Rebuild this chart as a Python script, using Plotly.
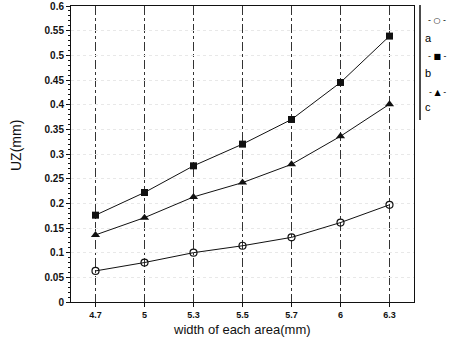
import plotly.graph_objects as go

widths = ["4.7", "5", "5.3", "5.5", "5.7", "6", "6.3"]
series_a = [0.063, 0.080, 0.100, 0.114, 0.131, 0.161, 0.197]   # open circle
series_b = [0.176, 0.222, 0.276, 0.320, 0.370, 0.445, 0.539]   # filled square
series_c = [0.136, 0.171, 0.213, 0.242, 0.279, 0.336, 0.401]   # filled triangle
legend_labels = ["a", "b", "c"]
legend_glyphs = ["- ○ -", "- ■ -", "- ▲ -"]

FONT = "Liberation Sans, Arial, sans-serif"
INK = "#111111"

fig = go.Figure()
fig.add_trace(go.Scatter(x=widths, y=series_a, mode="lines+markers", name="a",
                         line=dict(color=INK, width=1),
                         marker=dict(symbol="circle-open", size=7, color=INK, line=dict(width=1.2))))
fig.add_trace(go.Scatter(x=widths, y=series_b, mode="lines+markers", name="b",
                         line=dict(color=INK, width=1),
                         marker=dict(symbol="square", size=7, color=INK)))
fig.add_trace(go.Scatter(x=widths, y=series_c, mode="lines+markers", name="c",
                         line=dict(color=INK, width=1),
                         marker=dict(symbol="triangle-up", size=8, color=INK)))

L, R, T, B = 71, 43, 6, 45
W, H = 457, 347
pw, ph = W - L - R, H - T - B

def px(x):
    return (x - L) / pw

def py(y):
    return (H - B - y) / ph

fig.update_layout(
    width=W, height=H,
    margin=dict(l=L, r=R, t=T, b=B, autoexpand=False),
    paper_bgcolor="white", plot_bgcolor="white",
    showlegend=False,
    font=dict(family=FONT, color=INK),
    xaxis=dict(
        type="category", range=[-0.5, 6.5], automargin=False,
        showgrid=True, gridcolor="#333", griddash="dashdot", gridwidth=1,
        showline=True, linecolor=INK, linewidth=1, mirror=True,
        ticks="outside", ticklen=4, tickcolor=INK,
        tickfont=dict(size=9, family=FONT, color=INK, weight="bold"),
        zeroline=False,
    ),
    yaxis=dict(
        range=[0, 0.6], dtick=0.05, tick0=0, automargin=False,
        showgrid=True, gridcolor="#e8e8e8", griddash="dot", gridwidth=1,
        showline=True, linecolor=INK, linewidth=1, mirror=True,
        ticks="outside", ticklen=4, tickcolor=INK,
        minor=dict(dtick=0.01, ticks="outside", ticklen=2, tickcolor=INK, showgrid=False),
        tickfont=dict(size=10, family=FONT, color=INK, weight="bold"),
        zeroline=False,
    ),
)

# axis titles
fig.add_annotation(x=px(242), y=py(329), xref="paper", yref="paper",
                   text="width of each area(mm)", showarrow=False,
                   font=dict(size=13, family=FONT, color=INK), xanchor="center", yanchor="middle")
fig.add_annotation(x=px(16), y=py(146), xref="paper", yref="paper",
                   text="UZ(mm)", showarrow=False, textangle=-90,
                   font=dict(size=14, family=FONT, color=INK), xanchor="center", yanchor="middle")

# legend frame line
fig.add_shape(type="line", xref="paper", yref="paper",
              x0=px(420), x1=px(420), y0=py(5), y1=py(120),
              line=dict(color=INK, width=1.5))

label_y = [38, 73, 107]
glyph_y = [21, 57, 92]
for lab, gl, ly, gy in zip(legend_labels, legend_glyphs, label_y, glyph_y):
    fig.add_annotation(x=px(428), y=py(ly), xref="paper", yref="paper", text=lab,
                       showarrow=False, font=dict(size=11, family=FONT, color="#000000"),
                       xanchor="center", yanchor="middle")
    fig.add_annotation(x=px(437), y=py(gy), xref="paper", yref="paper", text=gl,
                       showarrow=False, font=dict(size=8, family="DejaVu Sans", color="#000000"),
                       xanchor="center", yanchor="middle")

fig.write_html("out.html", config={"displayModeBar": False},
               post_script="document.body.style.margin='0';")
